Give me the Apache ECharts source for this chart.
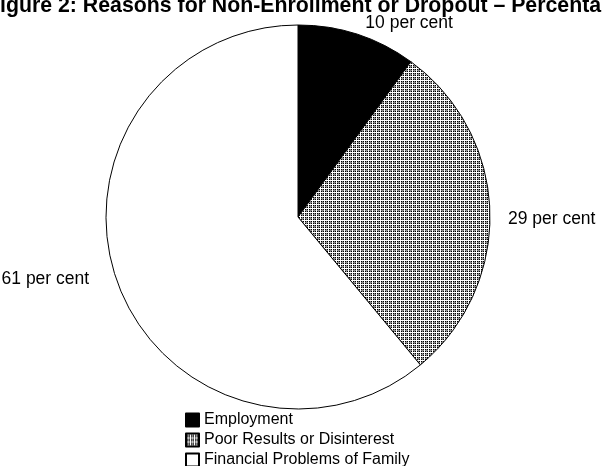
<!DOCTYPE html>
<html>
<head>
<meta charset="utf-8">
<script src="https://cdn.jsdelivr.net/npm/echarts@6/dist/echarts.min.js"></script>
<style>
    html, body { margin: 0; padding: 0; background: #fff; }
    #pie-chart { width: 602px; height: 466px; }
</style>
</head>
<body>
<div id="pie-chart"></div>
<script>
    // data
    let categories = ['Employment', 'Poor Results or Disinterest', 'Financial Problems of Family'];
    let shares = [10, 29, 61];
    let labelTexts = ['10 per cent', '29 per cent', '61 per cent'];

    // small plaid tile for the "Poor Results" slice
    function makeTile() {
        let c = document.createElement('canvas');
        c.width = 4;
        c.height = 4;
        let ctx = c.getContext('2d');
        for (let x = 0; x < 4; x++) {
            for (let y = 0; y < 4; y++) {
                let col = '#000';
                if (x === 0 || y === 0) col = '#fff';
                else if (x === 2 || y === 2) col = '#8a8a8a';
                ctx.fillStyle = col;
                ctx.fillRect(x, y, 1, 1);
            }
        }
        return c;
    }

    let fills = ['#000', {image: makeTile(), repeat: 'repeat'}, '#fff'];
    let font = 'Liberation Sans, Arial, Helvetica, sans-serif';
    // nudges so the labels sit where the original put them
    let nudge = [[-5, 1], [-4, 9], [-7, -7]];

    let myChart = echarts.init(document.getElementById('pie-chart'));
    let pieData = [];
    for (let i = 0; i < categories.length; i++) {
        pieData.push({
            name: categories[i],
            value: shares[i],
            itemStyle: {color: fills[i]},
            label: {formatter: labelTexts[i]}
        });
    }

    let option = {
        backgroundColor: '#fff',
        animation: false,
        title: {
            text: 'Figure 2: Reasons for Non-Enrollment or Dropout \u2013 Percentage',
            left: -13,
            top: -4,
            padding: 0,
            textStyle: {
                fontFamily: font,
                fontSize: 21.3,
                fontWeight: 'bold',
                color: '#000'
            }
        },
        legend: {
            orient: 'vertical',
            left: 185,
            top: 412,
            height: 90,
            padding: 0,
            itemWidth: 13,
            itemHeight: 13,
            itemGap: 4,
            icon: 'rect',
            data: categories,
            textStyle: {
                fontFamily: font,
                fontSize: 16,
                color: '#000'
            }
        },
        series: [{
            type: 'pie',
            center: [298, 217],
            radius: 192,
            startAngle: 90,
            clockwise: true,
            avoidLabelOverlap: false,
            itemStyle: {
                borderColor: '#000',
                borderWidth: 1
            },
            emphasis: {disabled: true},
            label: {
                show: true,
                position: 'outside',
                color: '#000',
                fontFamily: font,
                fontSize: 17.5
            },
            labelLine: {
                show: false,
                length: 13,
                length2: 4
            },
            labelLayout: function (p) {
                return {dx: nudge[p.dataIndex][0], dy: nudge[p.dataIndex][1]};
            },
            data: pieData
        }]
    };
    myChart.setOption(option);
</script>
</body>
</html>
